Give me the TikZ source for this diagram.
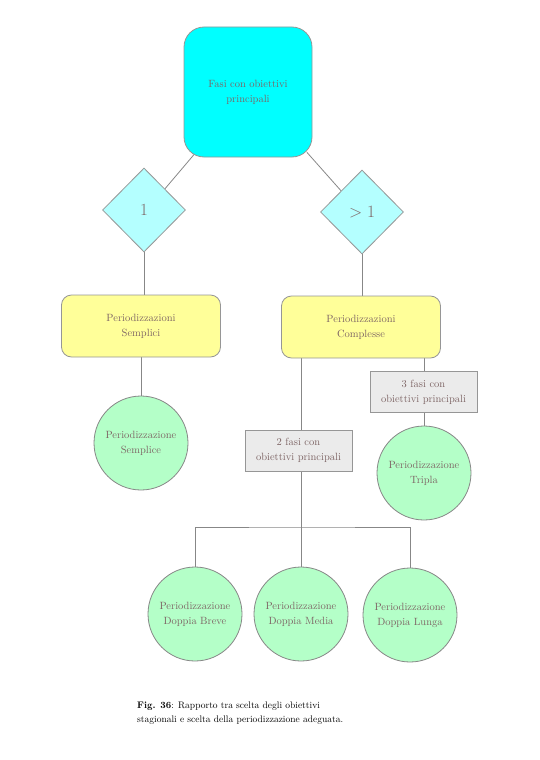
\documentclass[tikz,border=0pt]{standalone}
\usetikzlibrary{shapes.geometric,calc,backgrounds}
\definecolor{txt}{RGB}{125,100,100}
\definecolor{edge}{RGB}{135,135,135}
\definecolor{bord}{RGB}{150,150,150}
\definecolor{cyantop}{RGB}{0,255,255}
\definecolor{cyanlight}{RGB}{180,255,255}
\definecolor{yel}{RGB}{255,255,153}
\definecolor{grayfill}{RGB}{235,235,235}
\definecolor{mint}{RGB}{180,255,200}
\tikzset{
  base/.style={draw=bord, line width=0.8pt, text=txt, align=center, inner sep=0pt,
    font=\fontsize{10.5}{15}\selectfont},
  topbox/.style={base, fill=cyantop, rounded corners=20pt, minimum width=128pt, minimum height=130pt},
  choice/.style={base, diamond, fill=cyanlight, minimum width=83pt, minimum height=84pt,
    font=\fontsize{17}{20}\selectfont},
  yelbox/.style={base, fill=yel, rounded corners=10pt, minimum width=159pt, minimum height=62pt},
  graybox/.style={base, fill=grayfill, minimum width=107pt, minimum height=41pt},
  result/.style={base, circle, fill=mint, draw=edge, minimum size=94pt},
  conn/.style={draw=edge, line width=0.8pt},
}
\begin{document}
\begin{tikzpicture}[x=1pt,y=-1pt]
\useasboundingbox (0,0) rectangle (540,760);
\node[topbox] (top) at (248,92) {Fasi con obiettivi\\principali};
\node[choice] (d1) at (144,210) {1};
\node[choice] (d2) at (362,212) {$>1$};
\node[yelbox] (ys) at (141,326) {Periodizzazioni\\Semplici};
\node[yelbox] (yc) at (361,327) {Periodizzazioni\\Complesse};
\node[result] (cs) at (141,443) {Periodizzazione\\Semplice};
\node[graybox] (g2) at (298.5,450.5) {2 fasi con\\obiettivi principali};
\node[graybox] (g3) at (423.5,392) {3 fasi con\\obiettivi principali};
\node[result] (ct) at (424,473) {Periodizzazione\\Tripla};
\node[result] (cb) at (195,614) {Periodizzazione\\Doppia Breve};
\node[result] (cm) at (301,614) {Periodizzazione\\Doppia Media};
\node[result] (cl) at (410,615) {Periodizzazione\\Doppia Lunga};
\coordinate (tl) at ($(top.south west)+(8,0)$);
\coordinate (tr) at ($(top.south east)+(-1,0)$);
\coordinate (ycl) at (301,357.5);
\coordinate (ycr) at (424,357.5);
\coordinate (bus) at (301,527);
\node[anchor=north west, align=left, inner sep=0pt, font=\fontsize{9.5}{13.5}\selectfont]
  (cap) at (137,702) {\textbf{Fig. 36}: Rapporto tra scelta degli obiettivi\\stagionali e scelta della periodizzazione adeguata.};
\begin{scope}[on background layer]
\draw[conn] (d1.north east) -- ($(d1.north east)!1.15!(tl)$);
\draw[conn] (d2.north west) -- ($(d2.north west)!1.15!(tr)$);
\draw[conn] (d1.south) -- (d1.south |- ys.north);
\draw[conn] (d2.south) -- (d2.south |- yc.north);
\draw[conn] (ys.south) -- (cs.north);
\draw[conn] (ycl) -- (ycl |- g2.north);
\draw[conn] (ycr) -- (ycr |- g3.north);
\draw[conn] (ycr |- g3.south) -- (ct.north);
\draw[conn] (ycl |- g2.south) -- (bus);
\draw[conn] (cb.north) |- (bus) -| (cl.north);
\draw[conn] (bus) -- (cm.north);
\end{scope}
\end{tikzpicture}
\end{document}
